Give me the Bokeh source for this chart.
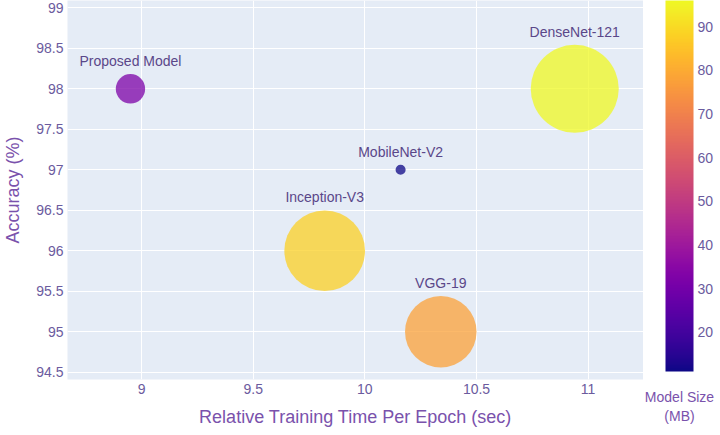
from bokeh.plotting import figure
from bokeh.layouts import row
from bokeh.models import (ColumnDataSource, LinearColorMapper, ColorBar, FixedTicker,
                          Range1d)
from bokeh.palettes import Plasma256
from bokeh.transform import transform
from bokeh.core.properties import value
from bokeh.embed import file_html
from bokeh.resources import INLINE

# ---- data ----
models = ["Proposed Model", "MobileNet-V2", "Inception-V3", "VGG-19", "DenseNet-121"]
train_time = [8.95, 10.16, 9.82, 10.34, 10.94]
accuracy = [98.0, 97.0, 96.0, 95.0, 98.0]
model_size = [32, 11, 88, 78, 96]
x_ticks = [9, 9.5, 10, 10.5, 11]
y_ticks = [94.5, 95, 95.5, 96, 96.5, 97, 97.5, 98, 98.5, 99]
cbar_ticks = [20, 30, 40, 50, 60, 70, 80, 90]

FONT = "Liberation Sans"
TICK_COLOR = "#6b5b9e"
TITLE_COLOR = "#7a52ac"
LABEL_COLOR = "#5a4789"
PX_PER_MB = 0.917

diam = [s * PX_PER_MB for s in model_size]
label_off = [-(d / 2 + 5) for d in diam]

src = ColumnDataSource(dict(x=train_time, y=accuracy, size=model_size,
                            diam=diam, name=models, off=label_off))

p = figure(frame_width=576, frame_height=379, output_backend="svg", toolbar_location=None,
           x_range=Range1d(8.668, 11.248), y_range=Range1d(94.41, 99.09),
           min_border_top=0, min_border_bottom=0, min_border_left=0, min_border_right=0)
p.background_fill_color = "#e5ecf6"
p.border_fill_color = "white"
p.outline_line_color = None

for ax in (p.xaxis[0], p.yaxis[0]):
    ax.axis_line_color = None
    ax.major_tick_line_color = None
    ax.minor_tick_line_color = None
    ax.major_tick_out = 0
    ax.major_tick_in = 0
    ax.major_label_text_font = FONT
    ax.major_label_text_font_size = "14px"
    ax.major_label_text_color = TICK_COLOR
    ax.axis_label_text_font = FONT
    ax.axis_label_text_font_size = "18px"
    ax.axis_label_text_font_style = "normal"
    ax.axis_label_text_color = TITLE_COLOR

p.xaxis.ticker = FixedTicker(ticks=x_ticks)
p.yaxis.ticker = FixedTicker(ticks=y_ticks)
p.xaxis.major_label_overrides = {t: f"{t:g}" for t in x_ticks}
p.yaxis.major_label_overrides = {t: f"{t:g}" for t in y_ticks}
p.xaxis.axis_label = "Relative Training Time Per Epoch (sec)"
p.yaxis.axis_label = "Accuracy (%)"
p.xaxis.major_label_standoff = 4
p.yaxis.major_label_standoff = 4
p.xaxis.axis_label_standoff = 10
p.yaxis.axis_label_standoff = 10

p.grid.grid_line_color = "white"
p.grid.grid_line_width = 1
p.xgrid.ticker = FixedTicker(ticks=x_ticks)
p.ygrid.ticker = FixedTicker(ticks=y_ticks)

lo, hi = min(model_size), max(model_size)
mapper = LinearColorMapper(palette=Plasma256, low=lo, high=hi)

p.scatter("x", "y", size="diam", source=src, fill_color=transform("size", mapper),
          fill_alpha=0.75, line_color=None)
p.text("x", "y", text="name", source=src, y_offset="off", text_align="center",
       text_baseline="bottom", text_font=value(FONT), text_font_size="14px",
       text_color=LABEL_COLOR)

# ---- colour bar panel ----
cbf = figure(frame_width=28, frame_height=371, output_backend="svg", toolbar_location=None,
             x_range=Range1d(0, 1), y_range=Range1d(lo, hi), y_axis_location="right",
             min_border_top=0, min_border_bottom=0, min_border_left=22, min_border_right=0)
cbf.outline_line_color = None
cbf.background_fill_color = None
cbf.border_fill_color = "white"
cbf.grid.visible = False

cb = ColorBar(color_mapper=mapper, ticker=FixedTicker(ticks=[]), width=28, height=371,
              padding=0, margin=0, location="top_left",
              major_tick_line_color=None, bar_line_color=None,
              major_label_text_font_size="0px",
              background_fill_color=None, border_line_color=None)
cbf.add_layout(cb, "center")

ya = cbf.yaxis[0]
ya.ticker = FixedTicker(ticks=cbar_ticks)
ya.axis_line_color = None
ya.major_tick_line_color = None
ya.minor_tick_line_color = None
ya.major_tick_out = 0
ya.major_tick_in = 0
ya.major_label_standoff = 4
ya.major_label_text_font = FONT
ya.major_label_text_font_size = "14px"
ya.major_label_text_color = TICK_COLOR

xa = cbf.xaxis[0]
xa.ticker = FixedTicker(ticks=[])
xa.axis_line_color = None
xa.major_tick_line_color = None
xa.minor_tick_line_color = None
xa.major_tick_out = 0
xa.major_tick_in = 0
xa.major_label_text_font_size = "0px"
xa.major_label_standoff = 0
xa.axis_label = "Model Size\n(MB)"
xa.axis_label_standoff = 17
xa.axis_label_text_font = FONT
xa.axis_label_text_font_size = "14px"
xa.axis_label_text_font_style = "normal"
xa.axis_label_text_color = TITLE_COLOR

layout = row(p, cbf)
open("out.html", "w").write(file_html(layout, INLINE))
